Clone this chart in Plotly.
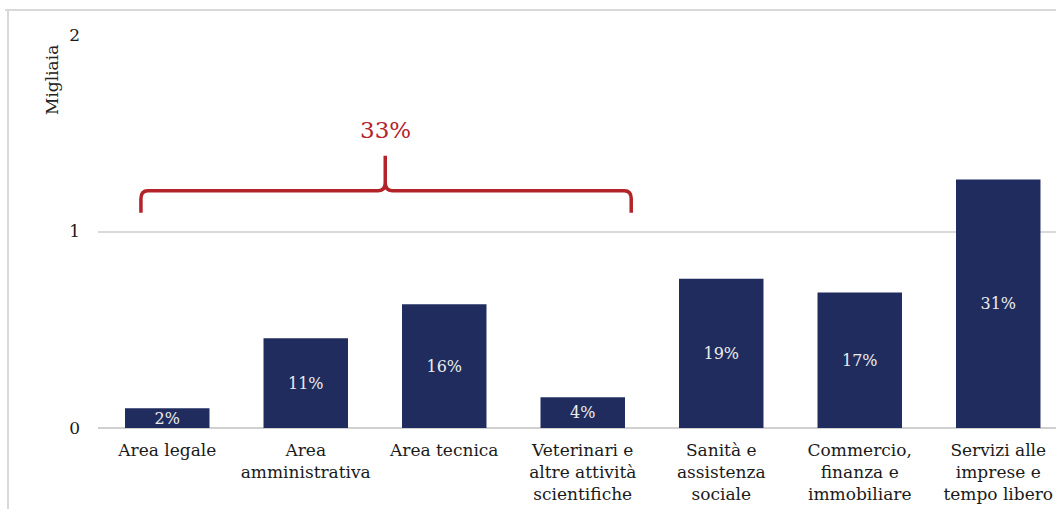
import plotly.graph_objects as go

categories = [
    "Area legale",
    "Area<br>amministrativa",
    "Area tecnica",
    "Veterinari e<br>altre attività<br>scientifiche",
    "Sanità e<br>assistenza<br>sociale",
    "Commercio,<br>finanza e<br>immobiliare",
    "Servizi alle<br>imprese e<br>tempo libero",
]
values = [0.10, 0.457, 0.63, 0.157, 0.76, 0.69, 1.264]
pct_labels = ["2%", "11%", "16%", "4%", "19%", "17%", "31%"]
y_ticks = [0, 1, 2]
brace_label = "33%"

FONT = "DejaVu Serif"
BAR = "#202c5e"
RED = "#b3232a"

W, H = 1056, 509
ML, MT, MB = 98, 35, 81
PW, PH = W - ML, H - MT - MB

fig = go.Figure()
fig.add_trace(go.Bar(
    x=list(range(len(categories))),
    y=values,
    text=pct_labels,
    textposition="inside",
    insidetextanchor="middle",
    textfont=dict(family=FONT, size=16, color="#ececec"),
    marker=dict(color=BAR, line=dict(width=0)),
    width=0.61,
    hoverinfo="skip",
))

# brace in data coordinates (x: category index, y: thousands)
x0, x1, xm = -0.19, 3.35, 1.574
yb, ye, yt = 1.208, 1.096, 1.386
r = 0.05
path = (
    f"M {x0},{ye} L {x0},{yb-0.04} Q {x0},{yb} {x0+r},{yb} "
    f"L {xm-r},{yb} Q {xm},{yb} {xm},{yb+0.04} L {xm},{yt} "
    f"M {xm},{yb+0.04} Q {xm},{yb} {xm+r},{yb} "
    f"L {x1-r},{yb} Q {x1},{yb} {x1},{yb-0.04} L {x1},{ye}"
)
fig.add_shape(type="path", path=path, xref="x", yref="y",
              line=dict(color=RED, width=3.5))
fig.add_annotation(x=xm, y=1.515, xref="x", yref="y", text=brace_label,
                   showarrow=False, font=dict(family=FONT, size=23, color=RED))

# y axis title
fig.add_annotation(x=(52 - ML) / PW, y=1.0 - 8 / PH, xref="paper", yref="paper",
                   text="Migliaia", textangle=-90, showarrow=False,
                   xanchor="center", yanchor="top",
                   font=dict(family=FONT, size=17, color="#222222"))

# outer frame lines (paper)
top_y = 1.0 + (MT - 10) / PH
left_x = (8 - ML) / PW
fig.add_shape(type="line", xref="paper", yref="paper", x0=(5 - ML) / PW, x1=1.0,
              y0=top_y, y1=top_y, line=dict(color="#d9d9d9", width=2))
fig.add_shape(type="line", xref="paper", yref="paper", x0=left_x, x1=left_x,
              y0=top_y, y1=-(MB + 5) / PH, line=dict(color="#d9d9d9", width=2))

fig.update_layout(
    width=W, height=H,
    margin=dict(l=ML, r=0, t=MT, b=MB, pad=0),
    paper_bgcolor="white", plot_bgcolor="white",
    showlegend=False,
    uniformtext=dict(minsize=16, mode="show"),
    font=dict(family=FONT, size=17, color="#1a1a1a"),
    xaxis=dict(
        tickmode="array",
        tickvals=list(range(len(categories))),
        ticktext=categories,
        range=[-0.5, 6.417],
        showgrid=False, showline=False, ticks="",
        tickfont=dict(family=FONT, size=17, color="#1a1a1a"),
        ticklabelstandoff=10,
    ),
    yaxis=dict(
        range=[0, 2],
        tickvals=y_ticks,
        showgrid=True, gridcolor="#d9d9d9", gridwidth=1.5,
        zeroline=True, zerolinecolor="#d0d0d0", zerolinewidth=2,
        tickfont=dict(family=FONT, size=17, color="#1a1a1a"),
        ticklabelstandoff=17,
    ),
)

fig.write_html(
    "out.html",
    config={"displayModeBar": False},
    post_script="document.body.style.margin='0';document.body.style.overflow='hidden';",
)
